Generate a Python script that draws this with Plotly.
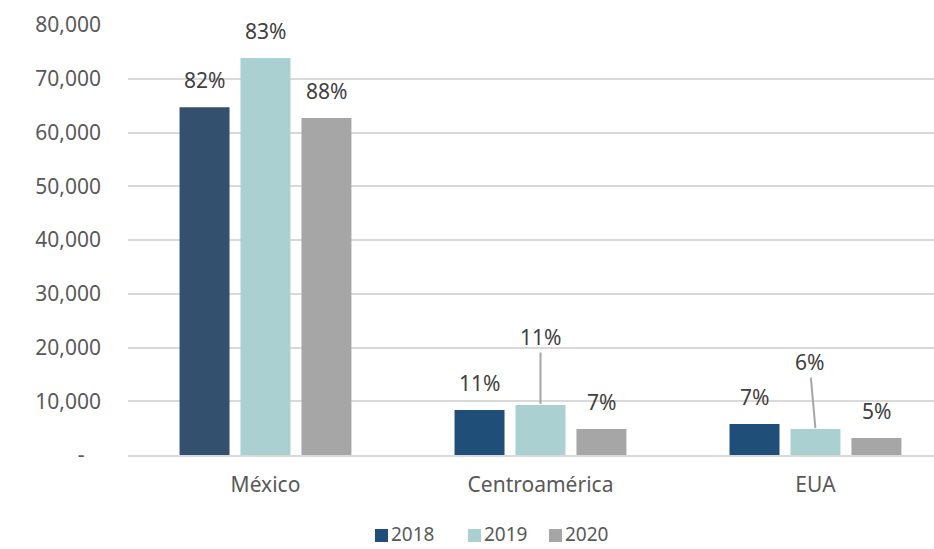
import plotly.graph_objects as go

categories = ["México", "Centroamérica", "EUA"]
years = ["2018", "2019", "2020"]
values_2018 = [64700, 8350, 5770]
values_2019 = [73850, 9300, 4830]
values_2020 = [62700, 4830, 3160]
pct_2018 = ["82%", "11%", "7%"]
pct_2019 = ["83%", "11%", "6%"]
pct_2020 = ["88%", "7%", "5%"]
y_ticks = [0, 10000, 20000, 30000, 40000, 50000, 60000, 70000, 80000]
y_tick_labels = ["-\u00a0\u00a0\u00a0", "10,000", "20,000", "30,000", "40,000", "50,000", "60,000", "70,000", "80,000"]

FONT = "Noto Sans"
SIZE = 21
colors = ["#1F4E79", "#AAD0D2", "#A6A6A6"]
fig = go.Figure()
fig.add_trace(go.Bar(name=years[0], x=categories, y=values_2018,
                     marker=dict(color=["#34506F", colors[0], colors[0]], line=dict(width=0))))
fig.add_trace(go.Bar(name=years[1], x=categories, y=values_2019,
                     marker=dict(color=colors[1], line=dict(width=0))))
fig.add_trace(go.Bar(name=years[2], x=categories, y=values_2020,
                     marker=dict(color=colors[2], line=dict(width=0))))

BARGAP = 0.335
offsets = [-1, 0, 1]
slot = (1 - BARGAP) / 3
series = [(values_2018, pct_2018), (values_2019, pct_2019), (values_2020, pct_2020)]
leader = {(1, 1): (0, -68), (2, 1): (-6, -67)}
for si, (vals, pcts) in enumerate(series):
    for ci, (v, p) in enumerate(zip(vals, pcts)):
        xpos = ci + offsets[si] * slot
        if (ci, si) in leader:
            ax, ay = leader[(ci, si)]
            fig.add_annotation(x=xpos, y=v, xref="x", yref="y", text=p,
                               showarrow=True, arrowhead=0, arrowwidth=2, arrowcolor="#A6A6A6",
                               ax=ax, ay=ay, standoff=1,
                               font=dict(family=FONT, size=SIZE, color="#404040"))
        else:
            fig.add_annotation(x=xpos, y=v, xref="x", yref="y", text=p,
                               showarrow=False, yshift=27,
                               font=dict(family=FONT, size=SIZE, color="#404040"))

# custom legend (paper coords; plot area x 128..934, y 25..455)
def px(xp):
    return (xp - 128) / 806
def py(yp):
    return (455 - yp) / 430
leg_x = [375, 468, 549]
for name, col, lx in zip(years, colors, leg_x):
    fig.add_shape(type="rect", xref="paper", yref="paper",
                  x0=px(lx), x1=px(lx + 13), y0=py(542), y1=py(529),
                  fillcolor=col, line=dict(width=0))
    fig.add_annotation(xref="paper", yref="paper", x=px(lx + 15), y=py(534),
                       xanchor="left", yanchor="middle", text=name, showarrow=False,
                       borderpad=0,
                       font=dict(family=FONT, size=19, color="#595959"))

fig.update_layout(
    width=934, height=549,
    margin=dict(l=128, r=0, t=25, b=94),
    paper_bgcolor="white", plot_bgcolor="white",
    barmode="group", bargap=BARGAP, bargroupgap=0.18,
    font=dict(family=FONT, size=SIZE, color="#595959"),
    showlegend=False,
    xaxis=dict(type="category", range=[-0.5, 2.431], showgrid=False, showline=True,
               linecolor="#D9D9D9", linewidth=1.5, ticks="", ticklabelstandoff=10,
               tickfont=dict(family=FONT, size=SIZE, color="#595959")),
    yaxis=dict(range=[0, 80000], tickvals=y_ticks, ticktext=y_tick_labels,
               showgrid=True, gridcolor="#D9D9D9", gridwidth=1.5, zeroline=False,
               showline=False, ticks="", ticklabelstandoff=26,
               tickfont=dict(family=FONT, size=SIZE, color="#595959")),
)

fig.write_html("out.html")
